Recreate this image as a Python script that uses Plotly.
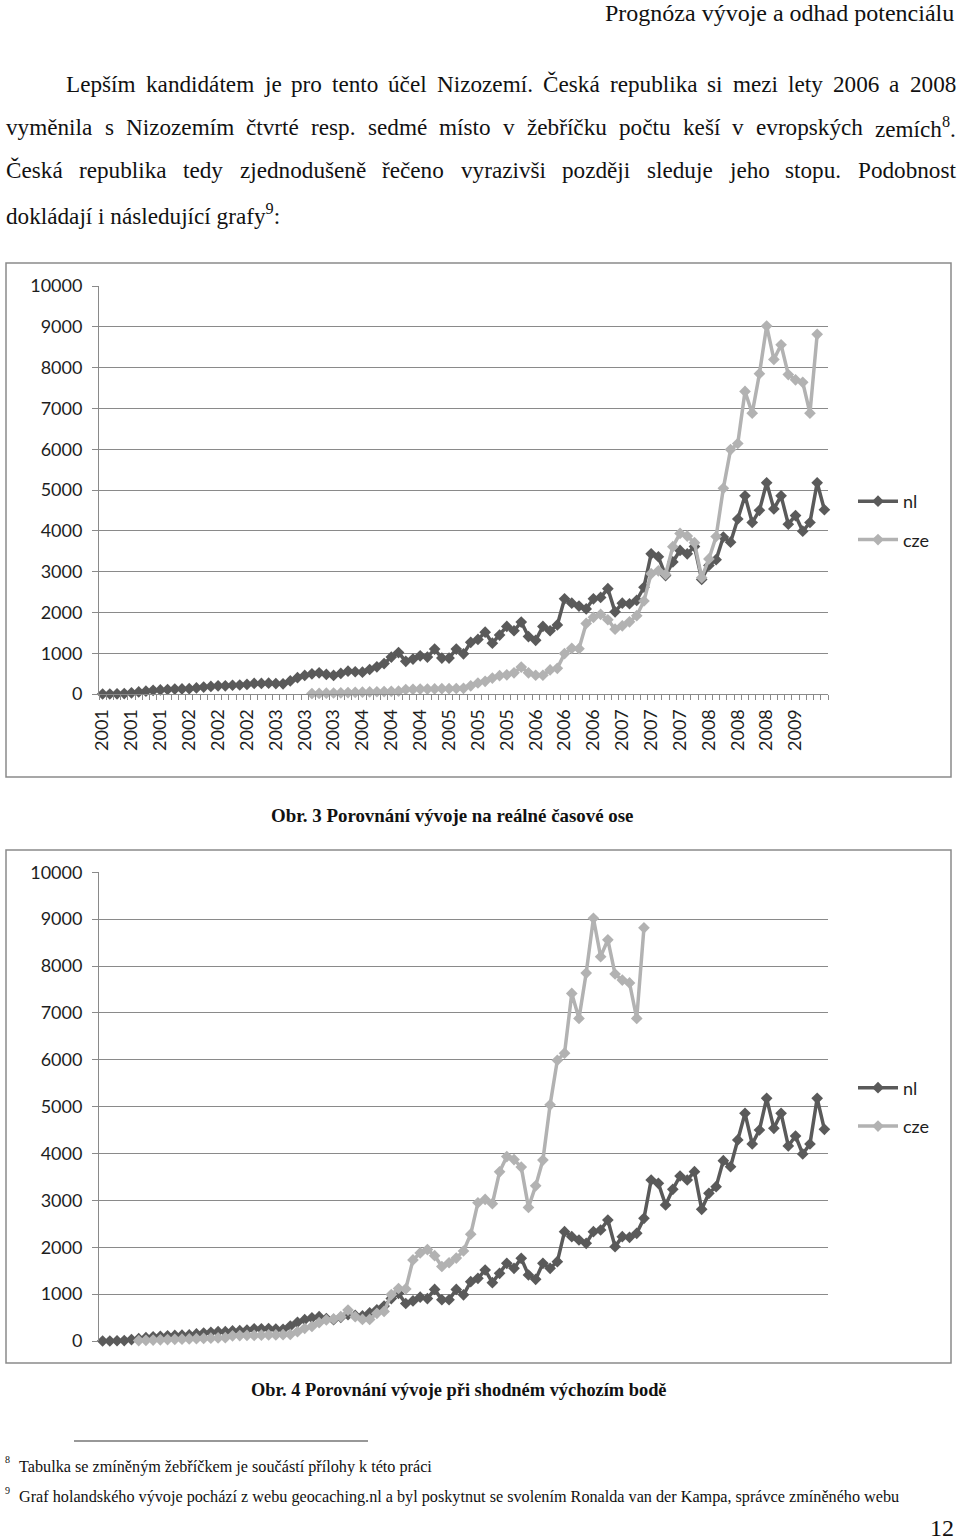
import unicodedata
import plotly.graph_objects as go

# ---------------- data ----------------
# monthly values, Jan 2001 .. May 2009 (101 months)
nl = [0, 0, 5, 10, 30, 50, 70, 90, 100, 110,
      120, 125, 130, 150, 170, 185, 200, 200, 215, 220,
      235, 260, 260, 265, 255, 250, 320, 400, 455, 495,
      520, 480, 455, 505, 560, 545, 535, 600, 665, 745,
      905, 1015, 800, 855, 935, 905, 1100, 880, 880, 1100,
      985, 1266, 1337, 1515, 1245, 1444, 1657, 1550, 1764, 1408,
      1316, 1657, 1550, 1693, 2333, 2226, 2155, 2084, 2333, 2368,
      2582, 2013, 2226, 2212, 2297, 2617, 3435, 3364, 2902, 3236,
      3520, 3435, 3613, 2809, 3151, 3293, 3848, 3720, 4289, 4857,
      4203, 4502, 5178, 4537, 4857, 4161, 4374, 3990, 4203, 5178,
      4516]
# monthly values, Jun 2003 .. Apr 2009 (71 months)
cze = [10, 15, 20, 25, 30, 35, 40, 45, 50, 55,
       60, 65, 70, 110, 115, 120, 120, 125, 130, 130,
       135, 140, 200, 270, 310, 390, 450, 470, 520, 660,
       520, 460, 460, 590, 630, 990, 1120, 1110, 1730, 1880,
       1950, 1820, 1590, 1670, 1770, 1920, 2280, 2950, 3020, 2930,
       3610, 3935, 3870, 3710, 2850, 3310, 3860, 5040, 5990, 6140,
       7415, 6883, 7850, 9020, 8200, 8560, 7830, 7700, 7640, 6883,
       8815]
cze_start_real = 29      # month index of first cze value on the real time axis
cze_start_aligned = 5    # month index where both series start (Obr. 4)
year_labels = ["2001", "2001", "2001", "2002", "2002", "2002", "2003", "2003", "2003",
               "2004", "2004", "2004", "2005", "2005", "2005", "2006", "2006", "2006",
               "2007", "2007", "2007", "2008", "2008", "2008", "2009"]
label_step = 4
series_names = ["nl", "cze"]

# ---------------- styling ----------------
W, H = 960, 1540
GRID = "#8a8a8a"
NL_COLOR = "#5a5a5a"
CZE_COLOR = "#b2b2b2"
AX_FONT = dict(family="Lato", size=18, color="#1e1e1e")
SERIF = "Liberation Serif"


def px(x):
    return x / W


def py(y):
    return 1 - y / H


REG = {' ': 250, '.': 250, ',': 250, ':': 278, '-': 333,
       'A': 722, 'B': 667, 'C': 667, 'D': 722, 'E': 611, 'F': 556, 'G': 722, 'H': 722, 'I': 333,
       'J': 389, 'K': 722, 'L': 611, 'M': 889, 'N': 722, 'O': 722, 'P': 556, 'Q': 722, 'R': 667,
       'S': 556, 'T': 611, 'U': 722, 'V': 722, 'W': 944, 'X': 722, 'Y': 722, 'Z': 611,
       'a': 444, 'b': 500, 'c': 444, 'd': 500, 'e': 444, 'f': 333, 'g': 500, 'h': 500, 'i': 278,
       'j': 278, 'k': 500, 'l': 278, 'm': 778, 'n': 500, 'o': 500, 'p': 500, 'q': 500, 'r': 333,
       's': 389, 't': 278, 'u': 500, 'v': 500, 'w': 722, 'x': 500, 'y': 500, 'z': 444}
BOLD = {' ': 250, '.': 250, ',': 250, ':': 333,
        'O': 778, 'P': 611,
        'a': 500, 'b': 556, 'c': 444, 'd': 556, 'e': 444, 'f': 333, 'g': 500, 'h': 556, 'i': 278,
        'j': 333, 'k': 556, 'l': 278, 'm': 833, 'n': 556, 'o': 500, 'p': 556, 'q': 556, 'r': 444,
        's': 389, 't': 333, 'u': 556, 'v': 500, 'w': 722, 'x': 500, 'y': 500, 'z': 444}


def em(s, table=REG):
    tot = 0
    for ch in s:
        base = unicodedata.normalize("NFD", ch)[0]
        if base.isdigit():
            tot += 500
        else:
            tot += table.get(base, 500)
    return tot / 1000.0


fig = go.Figure()


def add_series(xvals, yvals, name, color, xa, ya, legend):
    fig.add_trace(go.Scatter(
        x=xvals, y=yvals, name=name, mode="lines+markers",
        line=dict(color=color, width=3.5),
        marker=dict(symbol="diamond", size=9, color=color),
        xaxis=xa, yaxis=ya, legend=legend, legendgroup=name + legend,
        cliponaxis=False, hoverinfo="skip"))


months_idx = list(range(len(nl)))
cze_real_x = [cze_start_real + k for k in range(len(cze))]
cze_aligned_x = [cze_start_aligned + k for k in range(len(cze))]

add_series(months_idx, nl, series_names[0], NL_COLOR, "x", "y", "legend")
add_series(cze_real_x, cze, series_names[1], CZE_COLOR, "x", "y", "legend")
add_series(months_idx, nl, series_names[0], NL_COLOR, "x2", "y2", "legend2")
add_series(cze_aligned_x, cze, series_names[1], CZE_COLOR, "x2", "y2", "legend2")

xr = [-0.5, len(nl) - 0.5]
ycommon = dict(range=[0, 10000], tick0=0, dtick=1000, tickformat="d", showgrid=True,
               gridcolor=GRID, gridwidth=1,
               showline=True, linecolor=GRID, linewidth=1, ticks="outside", ticklen=6,
               tickcolor=GRID, tickfont=AX_FONT, zeroline=False, fixedrange=True,
               ticklabelstandoff=6, automargin=False)

legend_common = dict(xref="container", yref="container", xanchor="left", yanchor="middle",
                     font=AX_FONT, bgcolor="rgba(0,0,0,0)", tracegroupgap=12, itemwidth=40)

fig.update_layout(
    template="none",
    width=W, height=H, margin=dict(l=0, r=0, t=0, b=0, autoexpand=False),
    paper_bgcolor="white", plot_bgcolor="white", showlegend=True,
    xaxis=dict(domain=[px(99), px(828)], range=xr, anchor="y", automargin=False,
               tickmode="array", tickvals=[i * label_step for i in range(len(year_labels))],
               ticktext=year_labels, tickangle=-90, ticks="", tickfont=AX_FONT,
               showline=True, linecolor=GRID, linewidth=1, showgrid=False, zeroline=False,
               ticklabelstandoff=7,
               minor=dict(ticks="outside", ticklen=5, tickcolor=GRID, tickmode="linear",
                          tick0=-0.5, dtick=1, showgrid=False)),
    yaxis=dict(domain=[py(694), py(286)], anchor="x", **ycommon),
    xaxis2=dict(domain=[px(99), px(828)], range=xr, anchor="y2", showticklabels=False,
                ticks="", showline=False, showgrid=False, zeroline=False, automargin=False),
    yaxis2=dict(domain=[py(1341), py(872.3)], anchor="x2", **ycommon),
    legend=dict(x=px(853), y=py(520.5), **legend_common),
    legend2=dict(x=px(853), y=py(1107), **legend_common),
)

# chart frames
for (y0, y1) in [(263, 777), (850, 1363)]:
    fig.add_shape(type="rect", xref="paper", yref="paper", x0=px(6), x1=px(951),
                  y0=py(y1), y1=py(y0), line=dict(color=GRID, width=1.5), layer="below")

# footnote separator
fig.add_shape(type="line", xref="paper", yref="paper", x0=px(74), x1=px(368),
              y0=py(1441), y1=py(1441), line=dict(color="#333", width=1.2))


def txt(x, y, s, size, anchor="left", color="#111"):
    fig.add_annotation(x=px(x), y=py(y), xref="paper", yref="paper", text=s, showarrow=False,
                       xanchor=anchor, yanchor="middle",
                       font=dict(family=SERIF, size=size, color=color),
                       borderpad=0)


def word_em(w):
    if "<sup>" in w:
        pre, rest = w.split("<sup>")
        sup, post = rest.split("</sup>")
        return em(pre) + 0.7 * em(sup) + em(post)
    return em(w)


def justify(line, x0, x1, y, size):
    words = line.split(" ")
    widths = [word_em(w) * size for w in words]
    gap = (x1 - x0 - sum(widths)) / (len(words) - 1)
    x = x0
    for w, wd in zip(words, widths):
        txt(x, y, w, size)
        x += wd + gap


BODY = 23.2
# header
txt(955, 13, "Prognóza vývoje a odhad potenciálu", 24, anchor="right")
# paragraph
justify("Lepším kandidátem je pro tento účel Nizozemí. Česká republika si mezi lety 2006 a 2008",
        65, 955, 84, BODY)
justify("vyměnila s Nizozemím čtvrté resp. sedmé místo v žebříčku počtu keší v evropských zemích<sup>8</sup>.",
        5, 955, 127, BODY)
justify("Česká republika tedy zjednodušeně řečeno vyrazivši později sleduje jeho stopu. Podobnost",
        5, 955, 170, BODY)
txt(5, 214, "dokládají i následující grafy<sup>9</sup>:", BODY)

# captions
cap1 = "Obr. 3 Porovnání vývoje na reálné časové ose"
cap2 = "Obr. 4 Porovnání vývoje při shodném výchozím bodě"
txt(452, 815, "<b>" + cap1 + "</b>", 365 / em(cap1, BOLD), anchor="center")
txt(459, 1390, "<b>" + cap2 + "</b>", 418 / em(cap2, BOLD), anchor="center")

# footnotes
fn8 = "Tabulka se zmíněným žebříčkem je součástí přílohy k této práci"
fn9 = "Graf holandského vývoje pochází z webu geocaching.nl a byl poskytnut se svolením Ronalda van der Kampa, správce zmíněného webu"
FN = 881 / em(fn9)
txt(4, 1459, "8", FN * 0.62)
txt(18, 1467, fn8, FN)
txt(4, 1490, "9", FN * 0.62)
txt(18, 1497, fn9, FN)
txt(955, 1528, "12", 24, anchor="right")

fig.write_html("out.html",
               config={"displayModeBar": False},
               post_script="document.body.style.margin='0px';document.body.style.overflow='hidden';")
